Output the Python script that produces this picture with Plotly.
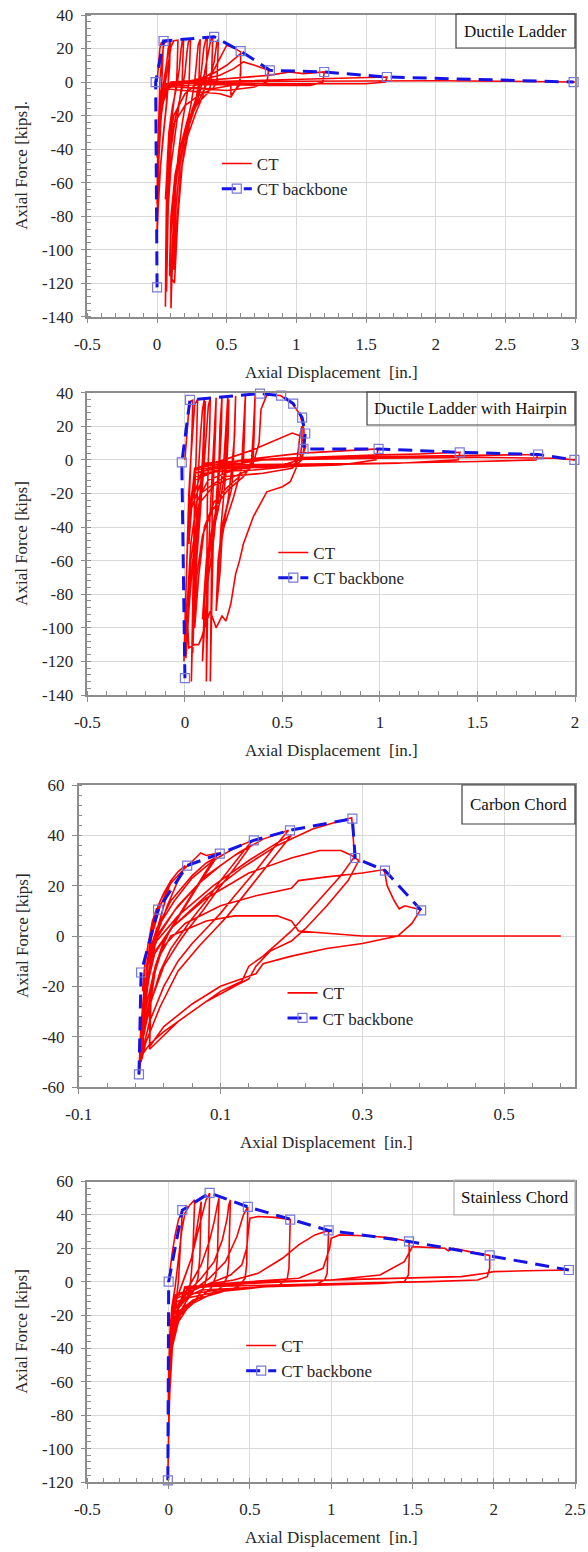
import plotly.graph_objects as go

# ---------------------------------------------------------------------------
# Cyclic axial tests of chord-tension (CT) specimens.
# Each record is a continuous path of (axial displacement [in.], axial force [kips]).
# ---------------------------------------------------------------------------

# Ductile Ladder
ladder_ct = [
    (0, 0), (0.01, 10), (0.02, 20), (0.03, 23.5), (0.045, 24.2),
    (0.04, 12), (0.035, 0), (0.025, -20), (0.012, -45), (0.0, -73),
    (0.003, -50), (0.01, -20), (0.02, 0), (0.035, 15), (0.05, 23), (0.07, 24.3), (0.09, 24.5),
    (0.085, 10), (0.08, 0), (0.065, -15), (0.04, -35), (0.015, -60), (0.0, -93),
    (0.005, -60), (0.015, -30), (0.03, -10), (0.05, 0), (0.07, 12), (0.08, 20), (0.095, 24.5),
    (0.09, 10), (0.083, 0), (0.07, -12), (0.05, -28), (0.025, -50), (0.005, -80), (0.0, -90),
    (0.006, -55), (0.02, -28), (0.04, -10), (0.06, 0), (0.08, 12), (0.1, 21), (0.12, 24.6), (0.15, 25),
    (0.145, 10), (0.14, 0), (0.12, -12), (0.095, -30), (0.075, -60), (0.065, -100), (0.06, -134),
    (0.062, -110), (0.066, -80), (0.072, -50), (0.085, -30), (0.11, -15), (0.14, -3), (0.16, 8),
    (0.17, 18), (0.18, 24), (0.19, 25),
    (0.185, 10), (0.18, 0), (0.16, -12), (0.13, -30), (0.1, -50), (0.08, -75), (0.07, -110), (0.068, -125),
    (0.072, -95), (0.08, -65), (0.1, -40), (0.13, -22), (0.17, -8), (0.2, 5), (0.215, 18), (0.225, 24), (0.24, 25.3),
    (0.235, 10), (0.23, 0), (0.21, -10), (0.18, -25), (0.15, -45), (0.12, -80), (0.1, -115), (0.1, -135),
    (0.105, -120), (0.115, -100), (0.13, -80), (0.15, -62), (0.17, -45), (0.2, -30), (0.24, -15),
    (0.27, 0), (0.285, 12), (0.295, 22), (0.31, 25.5),
    (0.305, 10), (0.3, 0), (0.28, -10), (0.24, -22), (0.2, -38), (0.17, -55), (0.14, -85), (0.12, -112),
    (0.125, -90), (0.14, -70), (0.165, -50), (0.2, -32), (0.25, -17), (0.3, -5), (0.32, 8), (0.335, 20),
    (0.35, 25.6), (0.36, 25.8),
    (0.355, 10), (0.35, 0), (0.33, -8), (0.28, -18), (0.22, -32), (0.18, -50), (0.15, -80), (0.13, -110),
    (0.125, -120), (0.09, -115),
    (0.1, -90), (0.12, -70), (0.15, -52), (0.19, -36), (0.25, -20), (0.3, -8), (0.34, 5), (0.37, 18),
    (0.385, 25), (0.4, 26.5),
    (0.395, 12), (0.39, 0), (0.37, -6), (0.3, -12), (0.22, -22), (0.17, -38), (0.13, -60), (0.1, -90), (0.09, -110),
    (0.1, -80), (0.13, -55), (0.18, -35), (0.26, -18), (0.33, -6), (0.38, 3), (0.41, 12), (0.425, 20),
    (0.43, 24), (0.44, 25.5),
    (0.435, 10), (0.43, 0), (0.4, -4), (0.3, -8), (0.2, -14), (0.12, -25), (0.08, -45), (0.06, -70),
    (0.08, -40), (0.12, -20), (0.2, -7), (0.3, 0), (0.4, 6), (0.45, 14), (0.5, 22), (0.55, 20.5), (0.6, 18),
    (0.6, 8), (0.595, 0), (0.56, -5), (0.53, -9), (0.45, -7), (0.3, -6), (0.15, -5), (0.06, -4), (0.03, -20), (0.01, -50),
    (0.03, -15), (0.08, -3), (0.2, 0), (0.3, 2), (0.4, 5), (0.5, 10), (0.58, 16), (0.6, 17),
    (0.6, 5), (0.59, -2), (0.53, -8), (0.53, -2), (0.4, -4), (0.2, -3), (0.05, -3), (0.03, -15),
    (0.1, 0), (0.3, 1), (0.45, 4), (0.55, 8), (0.62, 12), (0.7, 10), (0.8, 7),
    (0.79, 0), (0.7, -3), (0.5, -5), (0.3, -4), (0.15, -3), (0.05, -3), (0.02, -20), (0.0, -45),
    (0.03, -5), (0.2, 0), (0.5, 2), (0.8, 4), (0.95, 6), (1.05, 5), (1.2, 6),
    (1.19, 0), (1.1, -2), (0.8, -2), (0.4, -1.5), (0.05, -2), (0.02, -10),
    (0.1, 0), (0.5, 0.5), (1.0, 1.5), (1.4, 2.5), (1.65, 3),
    (1.64, 0), (1.5, -1), (0.8, -1), (0.2, -0.5), (0.05, -1),
    (0.3, 0), (1.0, 0.5), (2.0, 0.8), (2.5, 0.5), (3.0, 0),
]
ladder_backbone = [
    (0.0, -122.5), (-0.01, 0), (0.047, 24.5), (0.41, 27), (0.6, 18.5),
    (0.81, 7), (1.2, 6), (1.65, 3), (2.99, 0),
]

# Ductile Ladder with Hairpin
hairpin_ct = [
    (0, 0), (0.01, 15), (0.02, 30), (0.03, 35), (0.04, 35.5),
    (0.037, 20), (0.032, 0), (0.022, -25), (0.01, -60), (0.0, -100), (-0.005, -120),
    (0.0, -90), (0.01, -50), (0.02, -20), (0.03, 0), (0.04, 20), (0.05, 33), (0.065, 36),
    (0.062, 18), (0.057, 0), (0.05, -20), (0.045, -60), (0.038, -100), (0.033, -132),
    (0.04, -100), (0.048, -60), (0.058, -30), (0.07, -5), (0.08, 15), (0.09, 30), (0.1, 36.5),
    (0.097, 18), (0.09, 0), (0.08, -15), (0.065, -40), (0.05, -80), (0.04, -115),
    (0.045, -80), (0.06, -45), (0.08, -20), (0.095, 0), (0.1, 20), (0.105, 35),
    (0.1, 15), (0.093, -5), (0.08, -30), (0.06, -60), (0.045, -95),
    (0.055, -60), (0.07, -35), (0.09, -15), (0.1, 0), (0.11, 18), (0.12, 32), (0.13, 37),
    (0.127, 18), (0.12, 0), (0.115, -25), (0.112, -70), (0.11, -132),
    (0.115, -100), (0.12, -60), (0.13, -30), (0.14, -5), (0.15, 18), (0.155, 32), (0.16, 37),
    (0.157, 18), (0.15, 0), (0.14, -30), (0.135, -80), (0.13, -132),
    (0.137, -90), (0.145, -50), (0.16, -25), (0.175, 0), (0.18, 20), (0.185, 33), (0.19, 37.5),
    (0.187, 18), (0.18, 0), (0.17, -20), (0.15, -45), (0.12, -70), (0.1, -100), (0.09, -120),
    (0.1, -85), (0.12, -55), (0.15, -35), (0.18, -18), (0.2, 0), (0.21, 22), (0.22, 37.5),
    (0.217, 18), (0.21, 0), (0.195, -15), (0.17, -30), (0.14, -45), (0.11, -70), (0.09, -95),
    (0.11, -60), (0.14, -40), (0.18, -25), (0.205, -8), (0.215, 15), (0.225, 36),
    (0.222, 15), (0.215, -2), (0.2, -20), (0.185, -40), (0.17, -70), (0.16, -90),
    (0.17, -60), (0.19, -40), (0.22, -25), (0.24, -5), (0.255, 15), (0.26, 38),
    (0.255, 15), (0.25, 3), (0.24, -17), (0.21, -31), (0.19, -47), (0.18, -67), (0.16, -90),
    (0.17, -60), (0.2, -40), (0.25, -22), (0.29, -5), (0.3, 15), (0.31, 38.5),
    (0.305, 15), (0.3, 0), (0.28, -10), (0.22, -16), (0.15, -25), (0.1, -40), (0.07, -70), (0.05, -100),
    (0.06, -70), (0.09, -45), (0.14, -30), (0.22, -18), (0.3, -10), (0.34, -3), (0.35, 15), (0.36, 38.5),
    (0.355, 15), (0.35, 2), (0.33, -6), (0.25, -10), (0.15, -15), (0.08, -25), (0.04, -60), (0.02, -90),
    (0.005, -118),
    (0.01, -90), (0.03, -50), (0.06, -25), (0.12, -12), (0.25, -6), (0.35, -2), (0.38, 10), (0.39, 30),
    (0.42, 38.7), (0.49, 38.3), (0.52, 36), (0.555, 33), (0.59, 27), (0.61, 18), (0.612, 8),
    (0.6, 0), (0.55, -5), (0.4, -8), (0.2, -10), (0.08, -20), (0.03, -60), (0.015, -100), (0.02, -112),
    (0.05, -110), (0.07, -110), (0.085, -106), (0.1, -100), (0.13, -90), (0.16, -100), (0.19, -93),
    (0.21, -96), (0.235, -86), (0.26, -68), (0.28, -60), (0.3, -50), (0.35, -34), (0.42, -19),
    (0.5, -16), (0.54, -13), (0.57, -5), (0.58, 5), (0.59, 15), (0.6, 20),
    (0.6, 10), (0.59, 0), (0.5, -3), (0.3, -5), (0.1, -8), (0.03, -30), (0.02, -50),
    (0.05, -5), (0.2, 0), (0.35, 6), (0.45, 11), (0.55, 16), (0.6, 14), (0.62, 8),
    (0.6, 2), (0.55, -4), (0.35, -6), (0.15, -7), (0.05, -12), (0.02, -40),
    (0.05, -5), (0.3, 0), (0.6, 4), (0.8, 5.5), (0.99, 6.5),
    (0.98, 0), (0.8, -3), (0.5, -4), (0.2, -5), (0.05, -10), (0.02, -30),
    (0.1, -2), (0.5, 1), (1.0, 3), (1.2, 3.5), (1.41, 4.5),
    (1.4, 0), (1.1, -2), (0.6, -3), (0.2, -4), (0.05, -8),
    (0.3, 0), (0.8, 1.5), (1.3, 2.5), (1.6, 3), (1.81, 3.2),
    (1.8, 0), (1.5, -1), (1.0, -2), (0.5, -2.5), (0.1, -3), (0.05, -6),
    (0.4, 0), (1.0, 1), (1.5, 1.5), (1.9, 1), (2.0, 0),
]
hairpin_backbone = [
    (0.0, -130), (-0.016, -1.5), (0.026, 35.7), (0.385, 39.5), (0.493, 38.3), (0.555, 33.5),
    (0.601, 25.2), (0.617, 15.7), (0.608, 6.5), (0.993, 6.5), (1.409, 4.5), (1.811, 3.2), (1.997, 0),
]

# Carbon Chord
carbon_ct = [
    (0, 0), (0.004, 6), (0.01, 11),
    (0.005, 4), (0.0, -4), (-0.006, -15), (-0.01, -22),
    (-0.007, -12), (-0.002, -3), (0.004, 5), (0.012, 12), (0.02, 17), (0.03, 22),
    (0.022, 14), (0.012, 4), (0.005, -5), (-0.004, -18), (-0.01, -30),
    (-0.007, -20), (-0.002, -8), (0.004, 3), (0.015, 14), (0.03, 22), (0.04, 25.5), (0.05, 28),
    (0.04, 22), (0.025, 12), (0.012, 2), (0.003, -10), (-0.006, -26), (-0.012, -38),
    (-0.009, -25), (-0.004, -12), (0.003, 0), (0.015, 12), (0.03, 21), (0.05, 27), (0.065, 31),
    (0.072, 33), (0.08, 32), (0.097, 33),
    (0.08, 26), (0.06, 17), (0.045, 10), (0.03, 3), (0.02, -3), (0.008, -14), (-0.002, -28),
    (-0.01, -40), (-0.013, -45),
    (-0.011, -32), (-0.007, -18), (0.0, -6), (0.01, 3), (0.03, 14), (0.06, 24), (0.08, 29), (0.095, 31.5),
    (0.075, 23), (0.055, 14), (0.035, 5), (0.02, -2), (0.008, -12), (-0.004, -27), (-0.011, -40),
    (-0.009, -28), (-0.004, -14), (0.003, -4), (0.015, 5), (0.035, 14), (0.06, 23), (0.09, 30),
    (0.12, 35), (0.145, 38),
    (0.125, 31), (0.1, 22), (0.08, 14), (0.06, 7), (0.045, 1), (0.03, -5), (0.015, -14), (0.0, -28),
    (-0.01, -42), (-0.014, -50),
    (-0.012, -36), (-0.008, -22), (-0.002, -11), (0.01, -1), (0.035, 10), (0.07, 21), (0.1, 28),
    (0.125, 33), (0.143, 36),
    (0.12, 27), (0.095, 18), (0.075, 10), (0.055, 3), (0.04, -3), (0.02, -12), (0.003, -25), (-0.009, -40),
    (-0.012, -36), (-0.008, -22), (-0.002, -10), (0.01, 0), (0.04, 12), (0.08, 24), (0.12, 32),
    (0.16, 38.5), (0.196, 42),
    (0.175, 35), (0.15, 26), (0.12, 16), (0.1, 9), (0.08, 3), (0.06, -3), (0.04, -10), (0.02, -20),
    (0.0, -34), (-0.012, -48), (-0.015, -55),
    (-0.013, -40), (-0.009, -25), (-0.003, -12), (0.01, -2), (0.04, 8), (0.09, 20), (0.14, 30),
    (0.18, 37), (0.2, 40),
    (0.18, 33), (0.155, 24), (0.13, 15), (0.11, 8), (0.09, 2), (0.07, -4), (0.04, -14), (0.015, -28),
    (-0.005, -42), (-0.012, -50),
    (-0.01, -35), (-0.005, -20), (0.005, -8), (0.03, 3), (0.08, 16), (0.13, 27), (0.18, 36),
    (0.23, 42.5), (0.26, 45), (0.285, 47),
    (0.287, 40), (0.289, 31.5),
    (0.27, 24), (0.245, 16), (0.22, 8), (0.2, 2), (0.18, -3), (0.16, -8), (0.14, -12), (0.13, -18),
    (0.1, -22), (0.06, -30), (0.02, -38), (0.0, -43), (-0.01, -47),
    (-0.007, -32), (-0.002, -18), (0.008, -6), (0.03, 3), (0.08, 15), (0.14, 25), (0.2, 31),
    (0.24, 34), (0.27, 34), (0.285, 32), (0.295, 30),
    (0.28, 22), (0.25, 12), (0.22, 3), (0.2, -2), (0.17, -6), (0.15, -12), (0.14, -17), (0.12, -20),
    (0.08, -26), (0.04, -34), (0.0, -45),
    (0.0, -30), (0.005, -15), (0.02, -4), (0.05, 5), (0.1, 12), (0.15, 16), (0.2, 19), (0.21, 22),
    (0.25, 23.5), (0.3, 25), (0.331, 26.4),
    (0.335, 20), (0.345, 14), (0.352, 10.8), (0.36, 12), (0.382, 10.4),
    (0.37, 5), (0.35, 0), (0.3, -3), (0.25, -5), (0.2, -8), (0.16, -11), (0.15, -15), (0.13, -17),
    (0.1, -20), (0.06, -27), (0.02, -36), (0.0, -44),
    (0.002, -25), (0.01, -10), (0.03, 0), (0.08, 6), (0.12, 8), (0.18, 8), (0.2, 6), (0.21, 2),
    (0.25, 1), (0.3, 0), (0.4, 0), (0.5, 0), (0.58, 0),
]
carbon_backbone = [
    (-0.015, -55), (-0.012, -14.5), (0.012, 10.5), (0.053, 28), (0.099, 32.7), (0.147, 38),
    (0.198, 42), (0.286, 46.6), (0.29, 31), (0.332, 26), (0.383, 10.2),
]

# Stainless Chord
stainless_ct = [
    (0, 0), (0.01, 8), (0.02, 16), (0.04, 28), (0.06, 37), (0.084, 42.8),
    (0.078, 30), (0.07, 12), (0.06, 0), (0.045, -12), (0.025, -25), (0.01, -40), (0.0, -60), (-0.003, -80),
    (0.0, -55), (0.008, -30), (0.02, -15), (0.04, -3), (0.06, 12), (0.08, 30), (0.1, 41), (0.13, 46), (0.16, 49),
    (0.155, 35), (0.148, 15), (0.135, 0), (0.115, -10), (0.08, -18), (0.04, -28), (0.015, -45),
    (0.002, -75), (-0.003, -105), (-0.005, -119),
    (0.0, -85), (0.008, -45), (0.02, -22), (0.05, -10), (0.1, 3), (0.14, 14), (0.17, 30), (0.19, 42), (0.2, 48),
    (0.197, 35), (0.192, 15), (0.18, 2), (0.15, -6), (0.1, -13), (0.05, -22), (0.015, -40), (0.0, -70),
    (0.008, -40), (0.02, -22), (0.05, -10), (0.1, 3), (0.14, 14), (0.18, 30), (0.21, 42),
    (0.23, 49), (0.252, 53),
    (0.25, 40), (0.245, 20), (0.238, 5), (0.22, -3), (0.18, -9), (0.12, -15), (0.06, -24), (0.02, -40),
    (0.005, -65), (0.0, -90),
    (0.01, -55), (0.03, -28), (0.07, -12), (0.13, -2), (0.2, 10), (0.25, 24), (0.28, 36), (0.3, 46), (0.31, 50),
    (0.305, 35), (0.3, 15), (0.29, 3), (0.26, -4), (0.2, -9), (0.12, -14), (0.06, -20), (0.02, -35), (0.005, -60),
    (0.02, -30), (0.06, -14), (0.12, -6), (0.2, 2), (0.28, 12), (0.33, 25), (0.36, 38), (0.37, 46), (0.38, 49),
    (0.375, 32), (0.37, 12), (0.36, 3), (0.33, -3), (0.25, -8), (0.15, -13), (0.07, -20), (0.025, -35), (0.005, -70),
    (0.02, -35), (0.06, -16), (0.15, -5), (0.25, 2), (0.35, 12), (0.42, 27), (0.46, 40), (0.487, 44.8),
    (0.484, 30), (0.48, 10), (0.47, 2), (0.43, -3), (0.3, -7), (0.15, -11), (0.06, -18), (0.02, -35), (0.0, -55),
    (0.03, -18), (0.1, -7), (0.25, -1), (0.38, 4), (0.45, 10), (0.48, 20), (0.49, 30), (0.5, 38),
    (0.55, 39), (0.65, 38.5), (0.748, 37.2),
    (0.745, 25), (0.74, 8), (0.73, 2), (0.68, -2), (0.5, -4), (0.3, -6), (0.1, -10), (0.03, -20), (0.005, -40),
    (0.03, -10), (0.15, -3), (0.4, 1), (0.55, 5), (0.7, 14), (0.8, 22), (0.9, 28), (0.984, 30.7),
    (0.98, 18), (0.975, 5), (0.96, 1), (0.9, -2), (0.6, -3), (0.3, -5), (0.1, -8), (0.03, -18), (0.0, -38),
    (0.04, -8), (0.2, -2), (0.5, 0), (0.8, 2), (0.95, 8), (0.99, 20), (1.0, 26), (1.05, 28), (1.2, 27.5),
    (1.35, 26.5), (1.479, 24.1),
    (1.48, 15), (1.475, 4), (1.45, 0), (1.3, -1), (1.0, -2), (0.6, -3), (0.2, -5), (0.05, -12), (0.01, -30),
    (0.1, -4), (0.5, -1), (1.0, 1), (1.3, 4), (1.45, 12), (1.5, 21), (1.6, 20.5), (1.7, 20), (1.72, 18.5),
    (1.75, 20), (1.85, 18), (1.975, 15.7),
    (1.975, 8), (1.96, 3), (1.9, 1), (1.6, 0), (1.1, -1), (0.6, -2), (0.2, -3), (0.05, -10), (0.0, -36),
    (0.1, -3), (0.6, 0), (1.2, 1.5), (1.8, 3), (1.95, 5), (2.0, 6), (2.2, 6.5), (2.462, 7),
]
stainless_backbone = [
    (-0.005, -119), (0.0, 0), (0.084, 42.8), (0.252, 53.2), (0.487, 44.8), (0.748, 37.2),
    (0.984, 30.7), (1.479, 24.1), (1.975, 15.7), (2.462, 7),
]

# Axis ticks
ladder_xticks = [-0.5, 0, 0.5, 1, 1.5, 2, 2.5, 3]
ladder_yticks = [-140, -120, -100, -80, -60, -40, -20, 0, 20, 40]
hairpin_xticks = [-0.5, 0, 0.5, 1, 1.5, 2]
hairpin_yticks = [-140, -120, -100, -80, -60, -40, -20, 0, 20, 40]
carbon_xticks = [-0.1, 0.1, 0.3, 0.5]
carbon_yticks = [-60, -40, -20, 0, 20, 40, 60]
stainless_xticks = [-0.5, 0, 0.5, 1, 1.5, 2, 2.5]
stainless_yticks = [-120, -100, -80, -60, -40, -20, 0, 20, 40, 60]

# ---------------------------------------------------------------------------
W, H = 588, 1552
SERIF = "Liberation Serif, Times New Roman, serif"
TXT = "#262626"
AXIS = "#8c8c8c"
RED = "#ff0000"
BLUE = "#1414e6"


def fmt(v):
    return "%g" % v


panels = [
    dict(title="Ductile Ladder", ct=ladder_ct, bb=ladder_backbone,
         xticks=ladder_xticks, yticks=ladder_yticks, xrange=[-0.5, 3], yrange=[-140, 40],
         xminor=0.1, area=(87.4, 575, 15, 316.7), box=(456, 575, 14, 48),
         ytitle="Axial Force [kips].", legend_xy=(256.8, 164)),
    dict(title="Ductile Ladder with Hairpin", ct=hairpin_ct, bb=hairpin_backbone,
         xticks=hairpin_xticks, yticks=hairpin_yticks, xrange=[-0.5, 2], yrange=[-140, 40],
         xminor=0.1, area=(87.4, 575, 392.7, 695), box=(367, 575, 392, 425),
         ytitle="Axial Force [kips]", legend_xy=(313.3, 553)),
    dict(title="Carbon Chord", ct=carbon_ct, bb=carbon_backbone,
         xticks=carbon_xticks, yticks=carbon_yticks, xrange=[-0.1, 0.6], yrange=[-60, 60],
         xminor=0.04, area=(78.7, 575, 785, 1087), box=(462, 575, 785, 824),
         ytitle="Axial Force [kips]", legend_xy=(322.5, 993.3)),
    dict(title="Stainless Chord", ct=stainless_ct, bb=stainless_backbone,
         xticks=stainless_xticks, yticks=stainless_yticks, xrange=[-0.5, 2.5], yrange=[-120, 60],
         xminor=0.1, area=(87.4, 575, 1181.5, 1482), box=(454, 575, 1180, 1215),
         ytitle="Axial Force [kips]", legend_xy=(281.2, 1346), light_box=True),
]

fig = go.Figure()
layout = {}
shapes = []
annotations = []

for i, p in enumerate(panels, start=1):
    sfx = "" if i == 1 else str(i)
    xa, ya, lg = "x" + sfx, "y" + sfx, "legend" + sfx

    fig.add_trace(go.Scatter(
        x=[d for d, f in p["ct"]], y=[f for d, f in p["ct"]],
        mode="lines", name="CT", line=dict(color=RED, width=1.6),
        xaxis=xa, yaxis=ya, legend=lg,
    ))
    fig.add_trace(go.Scatter(
        x=[d for d, f in p["bb"]], y=[f for d, f in p["bb"]],
        mode="lines+markers", name="CT backbone",
        line=dict(color=BLUE, width=3, dash="14px,8px"),
        marker=dict(symbol="square-open", size=9, color="#7878d8", line=dict(width=1.2)),
        cliponaxis=False, xaxis=xa, yaxis=ya, legend=lg,
    ))

    x0, x1, y0, y1 = p["area"]
    common = dict(
        automargin=False,
        showline=True, linecolor=AXIS, linewidth=1.5, mirror=True,
        showgrid=True, gridcolor="#d9d9d9", gridwidth=1, zeroline=False,
        ticks="outside", ticklen=5, tickwidth=1, tickcolor=AXIS,
        tickfont=dict(family=SERIF, size=17, color=TXT), tickmode="array",
    )
    layout["xaxis" + sfx] = dict(
        domain=[x0 / W, x1 / W], anchor=ya, range=p["xrange"],
        tickvals=p["xticks"], ticktext=[fmt(v) for v in p["xticks"]],
        ticklabelstandoff=6,
        minor=dict(tickmode="linear", tick0=p["xrange"][0], dtick=p["xminor"],
                   ticks="inside", ticklen=4, tickcolor=AXIS, showgrid=False),
        **common,
    )
    layout["yaxis" + sfx] = dict(
        domain=[1 - y1 / H, 1 - y0 / H], anchor=xa, range=p["yrange"],
        tickvals=p["yticks"], ticktext=[fmt(v) for v in p["yticks"]],
        ticklabelstandoff=4,
        minor=dict(tickmode="linear", tick0=0, dtick=4,
                   ticks="inside", ticklen=4, tickcolor=AXIS, showgrid=False),
        **common,
    )

    # legend for this panel
    tx, ty = p["legend_xy"]
    layout["legend" + sfx] = dict(
        x=(tx - 40) / W, y=1 - (ty - 18) / H, xanchor="left", yanchor="top",
        bgcolor="rgba(0,0,0,0)", borderwidth=0,
        font=dict(family=SERIF, size=17, color=TXT), traceorder="normal",
    )

    # specimen name box
    bx0, bx1, by0, by1 = p["box"]
    shapes.append(dict(
        type="rect", xref="paper", yref="paper",
        x0=bx0 / W, x1=bx1 / W, y0=1 - by1 / H, y1=1 - by0 / H,
        line=dict(color="#b4b4b4" if p.get("light_box") else "#404040", width=1.2),
        fillcolor="rgba(0,0,0,0)", layer="above",
    ))
    annotations.append(dict(
        text=p["title"], xref="paper", yref="paper",
        x=(bx0 + bx1) / 2 / W, y=1 - (by0 + by1) / 2 / H,
        xanchor="center", yanchor="middle", showarrow=False,
        font=dict(family=SERIF, size=17, color="#111111"),
    ))

    # axis titles
    annotations.append(dict(
        text="Axial Displacement  [in.]", xref="paper", yref="paper",
        x=(x0 + x1) / 2 / W, y=1 - (y1 + 55.5) / H,
        xanchor="center", yanchor="middle", showarrow=False,
        font=dict(family=SERIF, size=17, color=TXT),
    ))
    annotations.append(dict(
        text=p["ytitle"], xref="paper", yref="paper",
        x=22 / W, y=1 - (y0 + y1) / 2 / H, textangle=-90,
        xanchor="center", yanchor="middle", showarrow=False,
        font=dict(family=SERIF, size=17, color=TXT),
    ))

fig.update_layout(
    template="none",
    width=W, height=H,
    margin=dict(l=0, r=0, t=0, b=0, autoexpand=False),
    paper_bgcolor="white", plot_bgcolor="white",
    font=dict(family=SERIF, size=17, color=TXT),
    shapes=shapes, annotations=annotations,
    **layout,
)

fig.write_html("out.html")
